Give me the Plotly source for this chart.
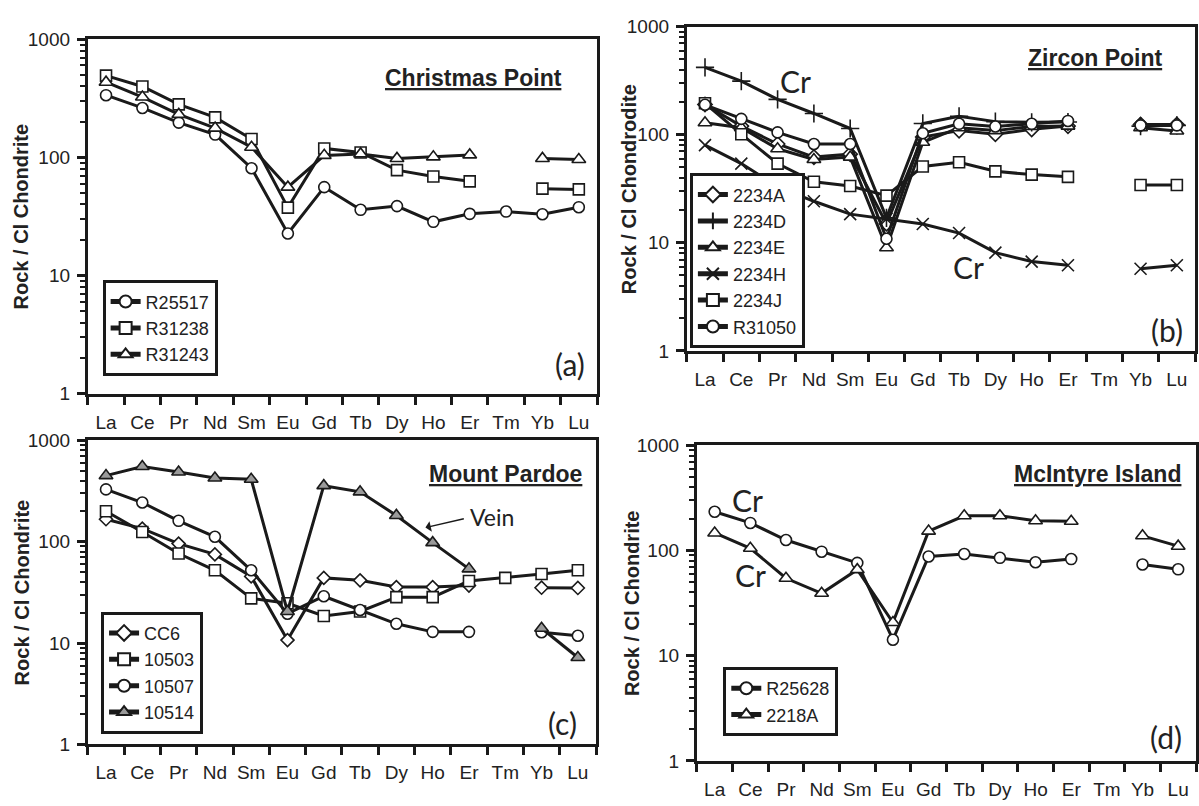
import plotly.graph_objects as go
import math

W, H = 1199, 806

elements = ["La", "Ce", "Pr", "Nd", "Sm", "Eu", "Gd", "Tb", "Dy", "Ho", "Er", "Tm", "Yb", "Lu"]

# Panel (a) Christmas Point
a_R25517 = [336, 262, 197, 156, 81, 22.7, 56, 36, 38.7, 28.5, 33.3, 34.8, 33, 37.9]
a_R31238 = [492, 398, 281, 218, 143, 37.6, 119, 110, 78, 69, 62.7, None, 54.4, 53.6]
a_R31243 = [433, 324, 231, 177, 122, 56, 104, 107, 98, 101, 105, None, 98, 96]

# Panel (b) Zircon Point
b_2234A = [190, 120, 82, 62, 66, 15, 95, 109, 101, 112, 120, None, 124, 124]
b_2234D = [419, 313, 212, 157, 114, 17, 127, 148, 132, 130, 131, None, 120, 122]
b_2234E = [129, 116, 74, 59, 62, 9.0, 85, 116, 109, 119, 120, None, 116, 108]
b_2234H = [80, 54, 33, 24.2, 18.4, 16.6, 14.9, 12.3, 8.1, 6.7, 6.2, None, 5.75, 6.2]
b_2234J = [195, 101, 54, 36.7, 33.5, 27.3, 50.8, 55.6, 45.8, 42.7, 40.7, None, 34.2, 34.2]
b_R31050 = [189, 140, 105, 82, 82, 10.9, 103, 126, 119, 126, 134, None, 122, 122]

# Panel (c) Mount Pardoe
c_CC6 = [167, 135, 96, 75, 45.5, 10.7, 44, 41.6, 35.7, 35.7, 37, None, 35.2, 35]
c_10503 = [200, 125, 76.6, 52.3, 27.6, 24.7, 18.5, 20.5, 28.4, 28.4, 41, 44, 48, 52.3]
c_10507 = [329, 244, 161, 112, 52.3, 19.5, 29, 21.2, 15.5, 12.9, 12.9, None, 12.8, 11.8]
c_10514 = [450, 554, 489, 426, 414, 20.5, 358, 311, 182, 98, 54, None, 14, 7.2]

# Panel (d) McIntyre Island
d_R25628 = [234, 183, 126, 97.5, 76.3, 14.2, 87.8, 92.8, 85.3, 77.4, 83, None, 73.6, 66.3]
d_2218A = [147, 105, 54.5, 39.2, 65.8, 20.7, 153, 214, 214, 192, 190, None, 138, 110]

ytickvals = [1, 10, 100, 1000]
yticktext = ["1", "10", "100", "1000"]

# panel pixel boxes: (left, right, top, bottom)
boxes = {
    1: (88, 598, 30, 394),
    2: (688, 1197, 17, 350),
    3: (88, 597, 442, 754),
    4: (698, 1198, 447, 771),
}

INK = "#1a1a1a"
FONT = "Liberation Sans, Arial, sans-serif"
CAL = "Lato, Open Sans, sans-serif"

fig = go.Figure()

def px_dom(i):
    l, r, t, b = boxes[i]
    return [l / W, r / W], [1 - b / H, 1 - t / H]

def paper_from_dom(i, fx, fy):
    xd, yd = px_dom(i)
    return xd[0] + fx * (xd[1] - xd[0]), yd[0] + fy * (yd[1] - yd[0])

idx = list(range(len(elements)))

def add(panel, name, vals, symbol, fill="white", size=11, lw=1.6):
    sfx = "" if panel == 1 else str(panel)
    fig.add_trace(go.Scatter(
        x=idx, y=vals, name=name, mode="lines+markers",
        xaxis="x" + sfx, yaxis="y" + sfx,
        legend="legend" + sfx,
        connectgaps=False,
        line=dict(color=INK, width=3),
        marker=dict(symbol=symbol, size=size, color=fill,
                    line=dict(color=INK, width=lw)),
    ))

add(1, "R25517", a_R25517, "circle")
add(1, "R31238", a_R31238, "square")
add(1, "R31243", a_R31243, "triangle-up", size=12)

add(2, "2234A", b_2234A, "diamond")
add(2, "2234D", b_2234D, "cross-thin-open", fill=INK, size=13, lw=1.6)
add(2, "2234E", b_2234E, "triangle-up", size=12)
add(2, "2234H", b_2234H, "x-thin-open", fill=INK, size=12, lw=1.6)
add(2, "2234J", b_2234J, "square")
add(2, "R31050", b_R31050, "circle")

add(3, "CC6", c_CC6, "diamond", size=10)
add(3, "10503", c_10503, "square")
add(3, "10507", c_10507, "circle")
add(3, "10514", c_10514, "triangle-up", fill="#9a9a9a", size=12)

add(4, "R25628", d_R25628, "circle")
add(4, "2218A", d_2218A, "triangle-up", size=12)

boundaries = [i - 0.5 for i in range(len(elements) + 1)]

layout = dict(
    width=W, height=H, margin=dict(l=0, r=0, t=0, b=0),
    paper_bgcolor="white", plot_bgcolor="white",
    font=dict(family=FONT, color="#222", size=19),
    showlegend=True,
)

# legend left edge (domain fraction) and bottom edge (domain fraction)
legend_pos = {1: (0.029, 0.049), 2: (0.006, 0.008), 3: (0.026, 0.035), 4: (0.053, 0.079)}

for i in range(1, 5):
    sfx = "" if i == 1 else str(i)
    xd, yd = px_dom(i)
    layout["xaxis" + sfx] = dict(
        domain=xd, anchor="y" + sfx, range=[-0.5, len(elements) - 0.5],
        tickmode="array", tickvals=idx, ticktext=elements,
        ticks="outside", ticklen=0, tickcolor=INK,
        ticklabelstandoff=9,
        tickfont=dict(size=19, family=FONT, color="#222"),
        showline=True, linecolor=INK, linewidth=3, mirror=True,
        showgrid=False, zeroline=False,
        minor=dict(tickmode="array", tickvals=boundaries, ticks="outside",
                   ticklen=8, tickwidth=2.5, tickcolor=INK, showgrid=False),
    )
    layout["yaxis" + sfx] = dict(
        domain=yd, anchor="x" + sfx, type="log", range=[0, 3],
        tickmode="array", tickvals=ytickvals, ticktext=yticktext,
        ticks="outside", ticklen=8, tickwidth=2.5, tickcolor=INK,
        ticklabelstandoff=3,
        tickfont=dict(size=19, family=FONT, color="#222"),
        showline=True, linecolor=INK, linewidth=3, mirror=True,
        showgrid=False, zeroline=False,
        minor=dict(ticks="outside", ticklen=5, tickwidth=2, tickcolor=INK,
                   dtick="D1", showgrid=False),
    )
    lx, ly = paper_from_dom(i, *legend_pos[i])
    layout["legend" + sfx] = dict(
        x=lx, y=ly, xanchor="left", yanchor="bottom",
        xref="paper", yref="paper",
        bgcolor="white", bordercolor=INK, borderwidth=3,
        font=dict(size=18, family=FONT, color="#222"),
        itemwidth=30, tracegroupgap=0,
        itemsizing="constant",
    )

fig.update_layout(**layout)

annotations = []

titles = {1: ("Christmas Point", 0.757, 0.892), 2: ("Zircon Point", 0.804, 0.904),
          3: ("Mount Pardoe", 0.821, 0.889), 4: ("McIntyre Island", 0.803, 0.909)}
for i, (t, fx, fy) in titles.items():
    sfx = "" if i == 1 else str(i)
    annotations.append(dict(text="<u><b>" + t + "</b></u>", xref="x" + sfx + " domain",
                            yref="y" + sfx + " domain", x=fx, y=fy, showarrow=False,
                            xanchor="center", yanchor="middle",
                            font=dict(size=23, family=FONT, color="#222")))

letters = {1: ("(a)", 0.947, 0.085), 2: ("(b)", 0.944, 0.065), 3: ("(c)", 0.934, 0.07), 4: ("(d)", 0.939, 0.076)}
for i, (t, fx, fy) in letters.items():
    sfx = "" if i == 1 else str(i)
    annotations.append(dict(text=t, xref="x" + sfx + " domain", yref="y" + sfx + " domain",
                            x=fx, y=fy, showarrow=False, xanchor="center", yanchor="middle",
                            font=dict(size=30, family=CAL, color="#222")))

ytitles = {1: ("Rock / Cl Chondrite", 22, 212), 2: ("Rock / Cl Chondrodite", 630, 184),
           3: ("Rock / Cl Chondrite", 22, 598), 4: ("Rock / Cl Chondrite", 633, 609)}
for i, (t, px, py) in ytitles.items():
    annotations.append(dict(text="<b>" + t + "</b>", xref="paper", yref="paper",
                            x=px / W, y=1 - py / H, textangle=-90, showarrow=False,
                            xanchor="center", yanchor="middle",
                            font=dict(size=20, family=FONT, color="#222")))

# Cr labels
crs = [(2, 2.5, 316), (2, 7.26, 5.95), (4, 0.91, 304), (4, 1.0, 58)]
for p, xi, yv in crs:
    sfx = str(p)
    annotations.append(dict(text="Cr", xref="x" + sfx, yref="y" + sfx, x=xi, y=math.log10(yv),
                            showarrow=False, xanchor="center", yanchor="middle",
                            font=dict(size=30, family=CAL, color="#222")))

# Vein label + arrow
annotations.append(dict(text="Vein", xref="x3", yref="y3", x=9.96, y=math.log10(176),
                        xanchor="left", yanchor="middle", showarrow=False,
                        font=dict(size=23, family=CAL, color="#222")))
annotations.append(dict(text="", xref="x3", yref="y3", x=8.8, y=math.log10(138),
                        axref="x3", ayref="y3", ax=9.9, ay=math.log10(170),
                        showarrow=True, arrowhead=1, arrowsize=1.2, arrowwidth=1.5,
                        arrowcolor=INK))

fig.update_layout(annotations=annotations)

fig.write_html("out.html",
               config={"displayModeBar": False},
               post_script="document.body.style.margin='0';document.body.style.padding='0';"
                           "document.body.style.overflow='hidden';")
